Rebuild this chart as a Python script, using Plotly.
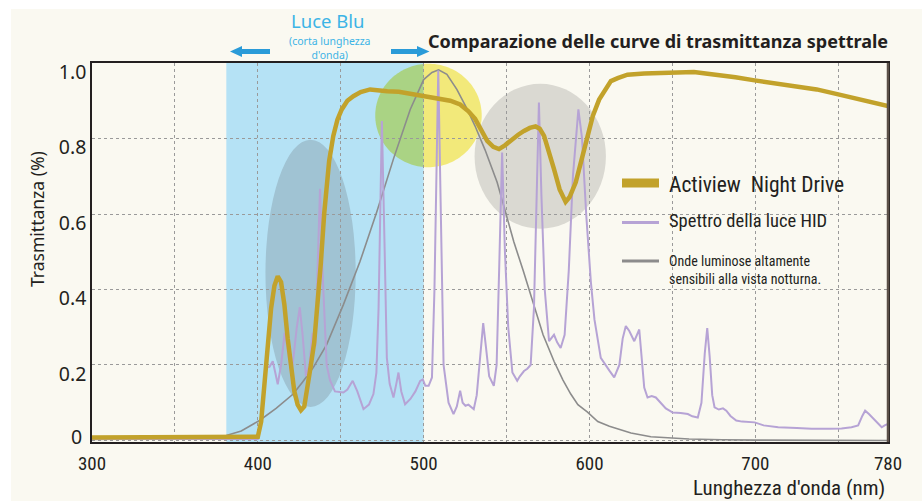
import plotly.graph_objects as go
import numpy as np

# ---------------- data ----------------
nd_nm = [300, 350, 395, 400, 402, 404, 406, 408, 410, 412, 414, 416, 418, 420, 422, 424, 426,
         428, 430, 432, 434, 436, 438, 440, 441.5, 443, 445.5, 448, 450.6, 454, 457.6, 462,
         467.7, 473, 478, 485, 490, 496, 502, 510, 516, 522, 527, 531, 535, 538.3, 542,
         545.4, 549, 554.4, 557, 560.5, 564, 567.5, 570, 572.6, 575, 578.6, 582, 585.6, 588,
         591.7, 595, 598.8, 602, 605.8, 610, 612.9, 617, 622.9, 633, 643, 653, 663, 670,
         677.4, 688, 699.6, 712, 723.8, 737, 750, 758, 768.2, 780]
nd_t = [0.008, 0.008, 0.008, 0.01, 0.05, 0.15, 0.26, 0.35, 0.41, 0.435, 0.42, 0.36, 0.27, 0.19,
        0.13, 0.095, 0.08, 0.09, 0.14, 0.2, 0.26, 0.36, 0.47, 0.6, 0.66, 0.74, 0.807, 0.85,
        0.877, 0.9, 0.912, 0.923, 0.93, 0.926, 0.925, 0.924, 0.92, 0.918, 0.912, 0.905, 0.9,
        0.89, 0.872, 0.852, 0.82, 0.794, 0.778, 0.772, 0.782, 0.803, 0.81, 0.82, 0.828, 0.832,
        0.826, 0.807, 0.775, 0.719, 0.665, 0.632, 0.645, 0.684, 0.74, 0.807, 0.86, 0.903,
        0.935, 0.952, 0.96, 0.969, 0.972, 0.974, 0.975, 0.976, 0.972, 0.969, 0.962, 0.954,
        0.947, 0.94, 0.93, 0.917, 0.908, 0.899, 0.886]

hid_nm = [300, 400, 402, 404, 405, 407, 409, 410.5, 412, 414, 416.2, 418, 420.2, 422, 423.5,
          425.3, 427, 429, 431, 433, 434.8, 436, 437.5, 439, 441.5, 443.5, 446.5, 451.6, 454,
          457.2, 460, 463.7, 467, 469.7, 471.5, 472.8, 474.8, 476.5, 477.8, 479.5, 481.8,
          483.5, 484.8, 486.5, 488.8, 492, 495, 497.9, 499.5, 501, 503, 505, 506.5, 508.8,
          510.5, 512, 515, 518, 520, 522, 523.5, 525.2, 527, 528.5, 530.2, 532, 534, 535.9,
          537.5, 539.5, 542.3, 544, 545.5, 547.3, 549, 551, 553.5, 556.4, 558, 560.5, 562.5,
          564.5, 566.5, 568, 569.5, 571, 573, 575.6, 577, 578.6, 580.5, 582.6, 585, 587.5,
          590, 593.3, 595.5, 598, 600.8, 603, 606.8, 610, 612, 614.9, 618, 620, 621.9, 624,
          627, 630, 631.5, 633, 635, 637.5, 640, 643, 646, 650.2, 655, 659.3, 662, 665.3,
          667.5, 669.5, 671, 672.5, 674, 675.4, 678, 680.5, 682.5, 685, 688.5, 692, 699.6,
          705, 713.8, 725, 733.9, 745, 752, 758, 762, 764.5, 766.2, 768.5, 771.2, 774, 776.2,
          778, 780]
hid_t = [0.004, 0.004, 0.05, 0.16, 0.193, 0.195, 0.21, 0.18, 0.149, 0.2, 0.285, 0.24, 0.175,
         0.24, 0.3, 0.353, 0.28, 0.171, 0.2, 0.285, 0.25, 0.45, 0.667, 0.45, 0.2, 0.16, 0.13,
         0.127, 0.135, 0.158, 0.13, 0.083, 0.095, 0.123, 0.18, 0.35, 0.846, 0.5, 0.219, 0.15,
         0.114, 0.15, 0.18, 0.13, 0.096, 0.11, 0.13, 0.158, 0.162, 0.145, 0.145, 0.167, 0.4,
         0.98, 0.5, 0.2, 0.1, 0.07, 0.09, 0.132, 0.1, 0.092, 0.095, 0.09, 0.083, 0.12, 0.22,
         0.311, 0.25, 0.17, 0.145, 0.2, 0.45, 0.763, 0.5, 0.3, 0.18, 0.158, 0.17, 0.184, 0.19,
         0.2, 0.35, 0.65, 0.895, 0.65, 0.4, 0.263, 0.27, 0.28, 0.26, 0.245, 0.28, 0.45, 0.7,
         0.877, 0.8, 0.6, 0.421, 0.32, 0.219, 0.2, 0.185, 0.167, 0.2, 0.27, 0.303, 0.29, 0.263,
         0.294, 0.22, 0.14, 0.114, 0.118, 0.114, 0.1, 0.085, 0.074, 0.073, 0.07, 0.064, 0.061,
         0.1, 0.23, 0.298, 0.22, 0.12, 0.088, 0.082, 0.085, 0.079, 0.065, 0.053, 0.05, 0.048,
         0.04, 0.035, 0.033, 0.031, 0.031, 0.032, 0.035, 0.04, 0.065, 0.079, 0.07, 0.057,
         0.045, 0.035, 0.04, 0.044]

scot_nm = [300, 340, 370, 381, 390, 401, 411, 421.3, 427, 433.4, 441.5, 451.6, 461.6, 471.7,
           481.8, 491.9, 500, 505, 509, 514, 520, 526, 531, 537, 544.3, 549, 554.4, 560, 566.5,
           572, 578.6, 584, 588.7, 593, 598.8, 605, 612, 619, 625, 637, 647, 660, 680, 700, 780]
scot_t = [0.003, 0.005, 0.01, 0.013, 0.025, 0.053, 0.085, 0.123, 0.155, 0.193, 0.254, 0.36,
          0.474, 0.605, 0.746, 0.877, 0.956, 0.975, 0.982, 0.97, 0.93, 0.88, 0.833, 0.77, 0.684,
          0.61, 0.526, 0.45, 0.355, 0.28, 0.21, 0.16, 0.123, 0.095, 0.075, 0.05, 0.038, 0.028,
          0.02, 0.01, 0.007, 0.004, 0.002, 0.001, 0.0]

x_tick_vals = [300, 350, 400, 450, 500, 550, 600, 650, 700, 750, 780]
x_tick_text = ["300", "", "400", "", "500", "", "600", "", "700", "", "780"]
y_tick_vals = [0, 0.2, 0.4, 0.6, 0.8, 1.0]
y_tick_text = ["0", "0.2", "0.4", "0.6", "0.8", "1.0"]

series_names = ["Actiview  Night Drive", "Spettro della luce HID",
                "Onde luminose altamente<br>sensibili alla vista notturna."]

# ---------------- styling ----------------
IVORY = "#FAF9F1"
GOLD = "#C2A22B"
PURPLE = "#B6A3D5"
GREYL = "#8C8C8C"
TXT = "#231F20"
NARROW = "Liberation Sans Narrow, Roboto Condensed, Arial Narrow, Liberation Sans, sans-serif"
SANS = "Noto Sans, sans-serif"

W, H = 922, 501
ML, MR, MT, MB = 92, 34, 63, 59
PW, PH = W - ML - MR, H - MT - MB


def pp(px, py):
    """pixel -> paper coordinates"""
    return (px - ML) / PW, (H - MB - py) / PH


def poly_path(points):
    s = ""
    for i, (px, py) in enumerate(points):
        x, y = pp(px, py)
        s += ("M" if i == 0 else "L") + f"{x:.5f},{y:.5f} "
    return s + "Z"


fig = go.Figure()

fig.add_trace(go.Scatter(x=scot_nm, y=scot_t, mode="lines", line=dict(color=GREYL, width=1.6),
                         showlegend=False, hoverinfo="skip"))
fig.add_trace(go.Scatter(x=hid_nm, y=hid_t, mode="lines", line=dict(color=PURPLE, width=2),
                         showlegend=False, hoverinfo="skip"))
fig.add_trace(go.Scatter(x=nd_nm, y=nd_t, mode="lines", line=dict(color=GOLD, width=4.5),
                         showlegend=False, hoverinfo="skip"))

shapes = []
# ivory page (white strips on left/top)
x0p, y0p = pp(11, 9)
x1p, y1p = pp(W, H)
shapes.append(dict(type="rect", xref="paper", yref="paper", x0=x0p, y0=y1p, x1=x1p, y1=y0p,
                   fillcolor=IVORY, line=dict(width=0), layer="below"))
# blue-light band
shapes.append(dict(type="rect", xref="x", yref="paper", x0=381, x1=500, y0=0, y1=1,
                   fillcolor="#B5E2F5", line=dict(width=0), layer="below"))
# dark ellipse over blue band
shapes.append(dict(type="circle", xref="x", yref="y", x0=431.8 - 27.2, x1=431.8 + 27.2,
                   y0=0.443 - 0.354, y1=0.443 + 0.354, fillcolor="#A0C3D3",
                   line=dict(width=0), layer="below"))
# grey circle
shapes.append(dict(type="circle", xref="x", yref="y", x0=570.3 - 39.6, x1=570.3 + 39.6,
                   y0=0.753 - 0.192, y1=0.753 + 0.192, fillcolor="#DAD9D2",
                   line=dict(width=0), layer="below"))
# yellow/green circle split at 500 nm
cx, cy, rx, ry = 502.9, 0.861, 32.1, 0.137
th0 = np.arccos((500 - cx) / rx)


def arc_path(t_from, t_to):
    ts = np.linspace(t_from, t_to, 80)
    s = ""
    for i, t in enumerate(ts):
        s += ("M" if i == 0 else "L") + f"{cx + rx*np.cos(t):.4f},{cy + ry*np.sin(t):.5f} "
    return s + "Z"


shapes.append(dict(type="path", xref="x", yref="y", path=arc_path(th0, 2*np.pi - th0),
                   fillcolor="#AAD384", line=dict(width=0), layer="below"))
shapes.append(dict(type="path", xref="x", yref="y", path=arc_path(-th0, th0),
                   fillcolor="#F2E97A", line=dict(width=0), layer="below"))
# right frame edge
shapes.append(dict(type="line", xref="paper", yref="paper", x0=1, x1=1, y0=0, y1=1,
                   line=dict(color="#5B5048", width=2.5), layer="above"))
# arrows (Luce Blu)
ARW = "#2A9BD8"
shapes.append(dict(type="path", xref="paper", yref="paper", fillcolor=ARW, line=dict(width=0),
                   path=poly_path([(230, 51.5), (242, 46), (242, 49), (270, 49), (270, 54),
                                   (242, 54), (242, 57)])))
shapes.append(dict(type="path", xref="paper", yref="paper", fillcolor=ARW, line=dict(width=0),
                   path=poly_path([(429.5, 51.5), (417, 46), (417, 49), (391, 49), (391, 54),
                                   (417, 54), (417, 57)])))
# legend swatches
for (py, col, wd) in [(183, GOLD, 9), (222.5, PURPLE, 3), (261, GREYL, 3)]:
    xa, ya = pp(622, py)
    xb, _ = pp(659, py)
    shapes.append(dict(type="line", xref="paper", yref="paper", x0=xa, x1=xb, y0=ya, y1=ya,
                       line=dict(color=col, width=wd)))

annotations = []


def ann(text, px, py, size, color=TXT, xanchor="left", family=NARROW, bold=False, **kw):
    x, y = pp(px, py)
    t = f"<b>{text}</b>" if bold else text
    annotations.append(dict(text=t, x=x, y=y, xref="paper", yref="paper", showarrow=False,
                            xanchor=xanchor, yanchor="middle",
                            font=dict(size=size, color=color, family=family), **kw))


ann("Comparazione delle curve di trasmittanza spettrale", 890, 41, 18, xanchor="right",
    family=SANS, bold=True)
ann("Luce Blu", 327, 20.5, 18.5, color="#3CB4E6", xanchor="center", family=SANS)
ann("(corta lunghezza<br>d'onda)", 330, 47.5, 10.5, color="#3CB4E6", xanchor="center",
    family=SANS, align="center")
ann(series_names[0], 667, 184, 21.5)
ann(series_names[1], 667, 221, 18.5)
ann(series_names[2], 667, 270, 14, align="left")
ann("Trasmittanza (%)", 37, 219, 17.5, xanchor="center", family=SANS, textangle=-90)
ann("Lunghezza d'onda (nm)", 887, 488, 21, xanchor="right")
# zero label of the y axis (sits a little above the baseline in the reference)
ann(y_tick_text[0], 84, 436, 19.5, xanchor="right", family=SANS)

fig.update_layout(
    width=W, height=H, autosize=False,
    margin=dict(l=ML, r=MR, t=MT, b=MB),
    paper_bgcolor="white", plot_bgcolor=IVORY,
    shapes=shapes, annotations=annotations, showlegend=False,
    xaxis=dict(range=[300, 780], tickmode="array", tickvals=x_tick_vals, ticktext=x_tick_text,
               showgrid=True, gridcolor="#9A9A9A", griddash="3px,3px", gridwidth=1,
               showline=True, mirror=True, linecolor=TXT, linewidth=1.5, ticks="",
               ticklabelstandoff=3,
               zeroline=False, tickfont=dict(family=NARROW, size=19, color=TXT)),
    yaxis=dict(range=[-0.004, 1.0], tickmode="array", tickvals=y_tick_vals,
               ticktext=[""] + y_tick_text[1:], showgrid=True, gridcolor="#9A9A9A",
               griddash="3px,3px", gridwidth=1, showline=True, mirror=True, linecolor=TXT,
               linewidth=1.5, ticks="", zeroline=False, ticklabelshift=9,
               tickfont=dict(family=SANS, size=19.5, color=TXT)),
)

fig.write_html("out.html", post_script="document.body.style.margin='0px';",
               config={"displayModeBar": False})
